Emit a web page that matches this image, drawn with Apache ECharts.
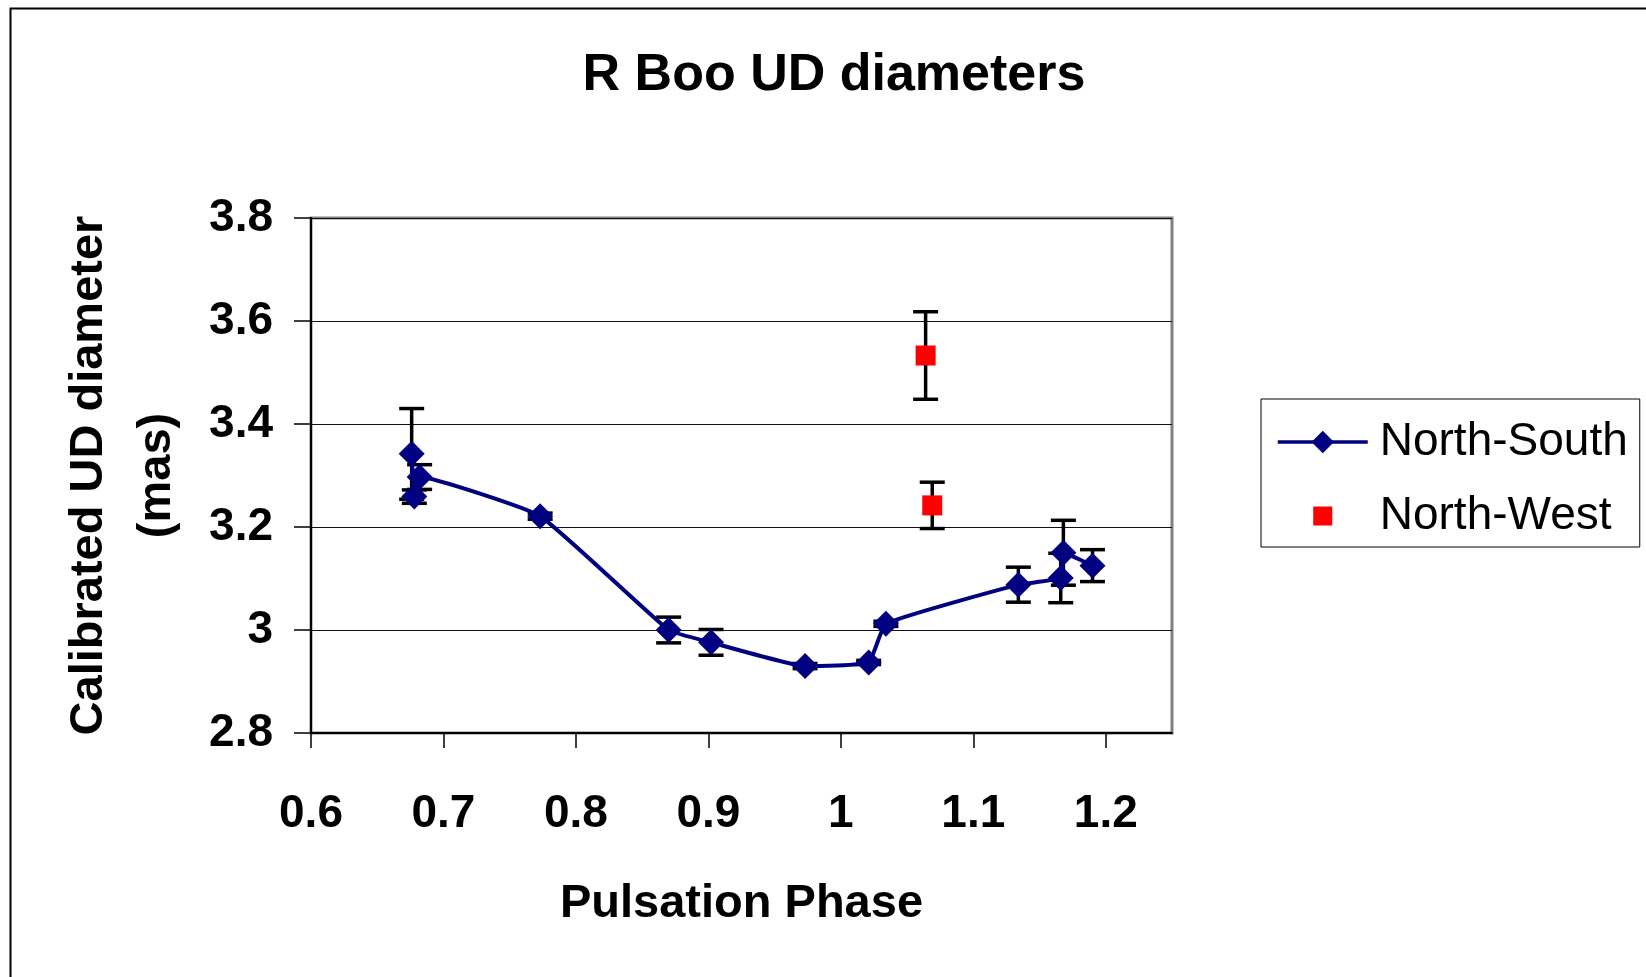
<!DOCTYPE html>
<html>
<head>
<meta charset="utf-8">
<script src="https://cdn.jsdelivr.net/npm/echarts@6/dist/echarts.min.js"></script>
<style>
html,body{margin:0;padding:0;background:#fff;}
#chart{width:1646px;height:977px;}
</style>
</head>
<body>
<div id="chart"></div>
<script>
// ---- data ----
const nsPhase = [0.676, 0.678, 0.682, 0.773, 0.870, 0.902, 0.973, 1.021, 1.034, 1.134, 1.166, 1.168, 1.190];
const nsDiam  = [3.342, 3.259, 3.297, 3.221, 3.000, 2.976, 2.930, 2.937, 3.012, 3.088, 3.101, 3.150, 3.125];
const nsErr   = [0.088, 0.013, 0.024, 0.006, 0.025, 0.025, 0.005, 0.004, 0.005, 0.034, 0.048, 0.063, 0.031];

const nwPhase = [1.064, 1.069];
const nwDiam  = [3.533, 3.242];
const nwErr   = [0.085, 0.045];

const xTicks = [0.6, 0.7, 0.8, 0.9, 1.0, 1.1, 1.2];
const yTicks = [2.8, 3.0, 3.2, 3.4, 3.6, 3.8];

const seriesNames = ['North-South', 'North-West'];
const titleText = 'R Boo UD diameters';
const xName = 'Pulsation Phase';
const yName = 'Calibrated UD diameter\n(mas)';

// ---- build ----
const FONT = '"Liberation Sans", Arial, sans-serif';
const nsData = nsPhase.map((p, i) => [p, nsDiam[i]]);
const nwData = nwPhase.map((p, i) => [p, nwDiam[i]]);
const nsErrData = nsPhase.map((p, i) => [p, nsDiam[i], nsErr[i]]);
const nwErrData = nwPhase.map((p, i) => [p, nwDiam[i], nwErr[i]]);

function errRender(params, api) {
  const x = api.value(0), y = api.value(1), e = api.value(2);
  const top = api.coord([x, y + e]);
  const bot = api.coord([x, y - e]);
  const hw = 12.5;
  const style = {stroke: '#000', lineWidth: 3.5};
  return {
    type: 'group',
    children: [
      {type: 'line', shape: {x1: top[0], y1: top[1], x2: bot[0], y2: bot[1]}, style: style},
      {type: 'line', shape: {x1: top[0] - hw, y1: top[1], x2: top[0] + hw, y2: top[1]}, style: style},
      {type: 'line', shape: {x1: bot[0] - hw, y1: bot[1], x2: bot[0] + hw, y2: bot[1]}, style: style}
    ]
  };
}

const fmt = v => String(+(+v).toFixed(1));
// square legend icon padded inside a square frame so it stays small
const squareIcon = 'path://M0,0L0.001,0M10,10L10,10.001M1.6,1.6L8.4,1.6L8.4,8.4L1.6,8.4Z';

const chart = echarts.init(document.getElementById('chart'), null, {renderer: 'canvas'});
chart.setOption({
  animation: false,
  backgroundColor: '#fff',
  title: {
    text: titleText,
    left: 834,
    textAlign: 'center',
    top: 50,
    padding: 0,
    textStyle: {fontFamily: FONT, fontSize: 52, fontWeight: 'bold', color: '#000'}
  },
  graphic: [{
    type: 'rect',
    left: 8, top: 6,
    shape: {width: 1700, height: 1100},
    style: {fill: 'none', stroke: '#000', lineWidth: 2},
    silent: true
  }],
  legend: {
    data: [
      {name: seriesNames[0]},
      {name: seriesNames[1], icon: squareIcon}
    ],
    orient: 'vertical',
    left: 1261,
    top: 399,
    padding: [20, 12, 8, 15],
    borderColor: '#000',
    borderWidth: 1,
    itemWidth: 90,
    itemHeight: 28,
    itemGap: 28,
    symbolKeepAspect: true,
    lineStyle: {width: 3.5},
    textStyle: {fontFamily: FONT, fontSize: 46, lineHeight: 46, color: '#000', padding: [0, 0, 0, 7]}
  },
  grid: {
    left: 311, right: 474, top: 218, bottom: 244,
    show: true,
    borderColor: '#808080',
    borderWidth: 3,
    containLabel: false
  },
  xAxis: {
    type: 'value',
    min: 0.6, max: 1.25, interval: 0.1,
    name: xName,
    nameLocation: 'middle',
    nameGap: 148,
    nameTextStyle: {fontFamily: FONT, fontSize: 47, fontWeight: 'bold', color: '#000'},
    axisLine: {show: true, onZero: false, lineStyle: {color: '#000', width: 2}},
    axisTick: {show: true, inside: false, length: 15, customValues: xTicks, lineStyle: {color: '#000', width: 1.5}},
    axisLabel: {
      customValues: xTicks,
      formatter: fmt,
      margin: 58,
      fontFamily: FONT, fontSize: 46, fontWeight: 'bold', color: '#000'
    },
    splitLine: {show: false}
  },
  yAxis: {
    type: 'value',
    min: 2.8, max: 3.8, interval: 0.2,
    name: yName,
    nameLocation: 'middle',
    nameRotate: 90,
    nameGap: 120,
    nameTextStyle: {fontFamily: FONT, fontSize: 47, fontWeight: 'bold', color: '#000', lineHeight: 68, align: 'center'},
    axisLine: {show: true, onZero: false, lineStyle: {color: '#000', width: 2}},
    axisTick: {show: true, inside: false, length: 17, lineStyle: {color: '#000', width: 1.5}},
    axisLabel: {
      formatter: fmt,
      margin: 38,
      fontFamily: FONT, fontSize: 46, fontWeight: 'bold', color: '#000'
    },
    splitLine: {show: true, lineStyle: {color: '#111', width: 1.2}}
  },
  series: [
    {
      name: 'nsErr',
      type: 'custom',
      renderItem: errRender,
      data: nsErrData,
      encode: {x: 0, y: 1},
      clip: false,
      z: 2,
      silent: true
    },
    {
      name: 'nwErr',
      type: 'custom',
      renderItem: errRender,
      data: nwErrData,
      encode: {x: 0, y: 1},
      clip: false,
      z: 2,
      silent: true
    },
    {
      name: seriesNames[0],
      type: 'line',
      data: nsData,
      smooth: 0.12,
      symbol: 'diamond',
      symbolSize: 26,
      itemStyle: {color: '#000080', opacity: 1},
      lineStyle: {color: '#000080', width: 4},
      z: 3
    },
    {
      name: seriesNames[1],
      type: 'scatter',
      data: nwData,
      symbol: 'rect',
      symbolSize: 20,
      itemStyle: {color: '#FF0000', opacity: 1},
      z: 4
    }
  ]
});
</script>
</body>
</html>
